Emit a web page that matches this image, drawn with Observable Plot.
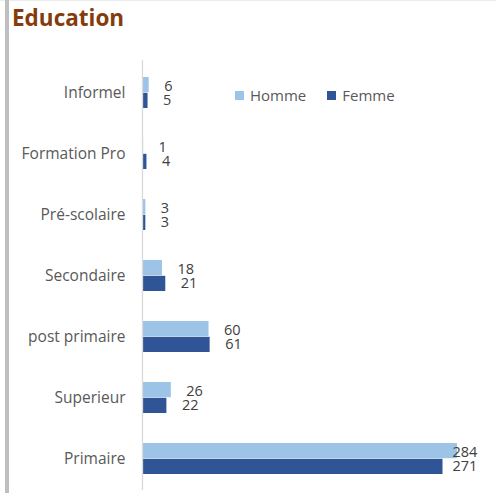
<!DOCTYPE html>
<html>
<head>
<meta charset="utf-8">
<script src="https://cdn.jsdelivr.net/npm/d3@7"></script>
<script src="https://cdn.jsdelivr.net/npm/@observablehq/plot@0.6"></script>
<style>
  html, body { margin: 0; padding: 0; background: #fff; }
  #wrap { position: relative; width: 496px; height: 493px; overflow: hidden; font-family: "Open Sans", Lato, sans-serif; }
  #topline { position: absolute; left: 0; top: 0; width: 496px; height: 1px; background: #ececec; }
  #leftbar { position: absolute; left: 5px; top: 0; width: 4px; height: 493px; background: #bfbfbf; }
  #title { position: absolute; left: 12px; top: 2px; font-size: 22.5px; font-weight: bold; color: #843c0c; }
  #legend { position: absolute; left: 235px; top: 85px; font-size: 15px; color: #595959; display: flex; align-items: center; }
  #legend .sw { display: inline-block; width: 9px; height: 9px; margin-right: 6px; }
  #legend .item { display: flex; align-items: center; margin-right: 21px; }
  #chart { position: absolute; left: 0; top: 0; }
</style>
</head>
<body>
<div id="wrap">
  <div id="chart"></div>
  <div id="topline"></div>
  <div id="leftbar"></div>
  <div id="title">Education</div>
  <div id="legend"></div>
</div>
<script>
const categories = ["Informel", "Formation Pro", "Pré-scolaire", "Secondaire", "post primaire", "Superieur", "Primaire"];
const homme = [6, 1, 3, 18, 60, 26, 284];
const femme = [5, 4, 3, 21, 61, 22, 271];
const seriesNames = ["Homme", "Femme"];
const seriesColors = ["#9dc3e6", "#2f5597"];

const hommeData = categories.map((c, i) => ({cat: c, value: homme[i]}));
const femmeData = categories.map((c, i) => ({cat: c, value: femme[i]}));

const xMax = 303;
const labelClamp = 266;
const font = "'Open Sans', Lato, sans-serif";

const plot = Plot.plot({
  width: 496,
  height: 493,
  marginLeft: 142,
  marginRight: 18,
  marginTop: 60,
  marginBottom: 3,
  style: {fontFamily: font, fontSize: "15.5px", color: "#595959", background: "transparent"},
  x: {domain: [0, xMax], axis: null},
  y: {domain: categories, paddingInner: 0.5, paddingOuter: 0.25, label: null, tickSize: 0, tickPadding: 17},
  marks: [
    Plot.barX(hommeData, {x: "value", y: "cat", fill: seriesColors[0], insetBottom: 15.8}),
    Plot.barX(femmeData, {x: "value", y: "cat", fill: seriesColors[1], insetTop: 15.8}),
    Plot.ruleX([0], {stroke: "#d9d9d9", strokeWidth: 1.3}),
    Plot.text(hommeData, {x: d => Math.min(d.value, labelClamp), y: "cat", text: d => String(d.value), textAnchor: "start", dx: 15, dy: -6.5, fill: "#404040", fontSize: 14.5}),
    Plot.text(femmeData, {x: d => Math.min(d.value, labelClamp), y: "cat", text: d => String(d.value), textAnchor: "start", dx: 15, dy: 7, fill: "#404040", fontSize: 14.5})
  ]
});
document.getElementById("chart").appendChild(plot);

const legend = document.getElementById("legend");
seriesNames.forEach((n, i) => {
  const item = document.createElement("span");
  item.className = "item";
  const sw = document.createElement("span");
  sw.className = "sw";
  sw.style.background = seriesColors[i];
  item.appendChild(sw);
  item.appendChild(document.createTextNode(n));
  legend.appendChild(item);
});
</script>
</body>
</html>
